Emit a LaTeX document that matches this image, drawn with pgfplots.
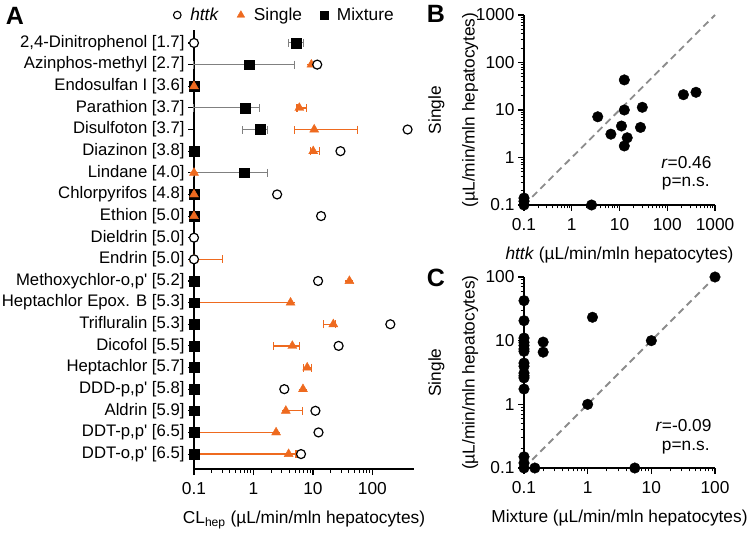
\documentclass[border=0pt]{standalone}
\usepackage{fontspec}
\setmainfont{Liberation Sans}
\usepackage{pgfplots}
\pgfplotsset{compat=1.18}
\definecolor{sorange}{HTML}{EE6A1F}
\definecolor{egray}{HTML}{808080}
\definecolor{dgray}{HTML}{8C8C8C}
\newcommand{\fs}{\fontsize{17.3}{20.8}\selectfont}
\newcommand{\fsa}{\fontsize{16.7}{20}\selectfont}
\pgfplotsset{
  common/.style={
    scale only axis,
    axis lines=left, axis line style={-, line width=1.3pt, black},
    tick align=outside,
    major tick length=6pt, minor tick length=3.5pt,
    major tick style={black, line width=1.1pt},
    minor tick style={black, line width=0.9pt},
    clip=false,
    /pgf/number format/assume math mode=true,
    tick label style={font=\fs},
    xticklabel style={yshift=-4pt},
    label style={font=\fs},
    xlabel style={yshift=-9pt},
  },
  scat/.style={
    common,
    ylabel={Single\\[13pt](µL/min/mln hepatocytes)},
    ylabel style={align=center, at={(axis description cs:-0.37,0.5)}, anchor=center},
  }
}
\begin{document}
\begin{tikzpicture}[font=\fs]
% ---------------- Panel A ----------------
\begin{axis}[common,
  xmode=log,
  at={(194pt,64pt)}, anchor=south west,
  width=220pt, height=439pt,
  xmin=0.1, xmax=500,
  ymin=0.31, ymax=20.6,
  xtick={0.1,1,10,100}, xticklabels={0.1,1,10,100},
  ytick={1,...,20},
  yticklabel style={font=\fsa},
  yticklabels={
    {DDT-o,p\textquotesingle\ [6.5]},
    {DDT-p,p\textquotesingle\ [6.5]},
    {Aldrin [5.9]},
    {DDD-p,p\textquotesingle\ [5.8]},
    {Heptachlor [5.7]},
    {Dicofol [5.5]},
    {Trifluralin [5.3]},
    {Heptachlor Epox. B [5.3]},
    {Methoxychlor-o,p\textquotesingle\ [5.2]},
    {Endrin [5.0]},
    {Dieldrin [5.0]},
    {Ethion [5.0]},
    {Chlorpyrifos [4.8]},
    {Lindane [4.0]},
    {Diazinon [3.8]},
    {Disulfoton [3.7]},
    {Parathion [3.7]},
    {Endosulfan I [3.6]},
    {Azinphos-methyl [2.7]},
    {2,4-Dinitrophenol [1.7]}},
  xlabel={CL\textsubscript{hep} (µL/min/mln hepatocytes)},
  legend columns=3,
  legend image code/.code={%
    \path[draw=none, fill=none] (0pt,0pt) -- (20pt,0pt);
    \draw[#1] plot coordinates {(9pt,0pt)};},
  legend style={draw=none, fill=none, font=\fs,
    at={(axis description cs:0.40,1.034)}, anchor=center,
    /tikz/every even column/.append style={column sep=11pt}},
]
% Mixture with error bars
\addplot[only marks, mark=square*, black, mark size=4.9pt, forget plot,
  error bars/.cd, x dir=both, x explicit,
  error bar style={egray, line width=1pt},
  error mark options={egray, rotate=90, mark size=4pt, line width=1pt}]
coordinates {
  (5.25,20) += (1.6,0) -= (1.35,0)
  (0.85,19) += (4.05,0) -= (0.75,0)
  (0.72,17) += (0.53,0) -= (0.62,0)
  (1.3,16)  += (0.4,0)  -= (0.64,0)
  (0.69,14) += (1.0,0)  -= (0.59,0)
};
% Mixture at limit
\addplot[only marks, mark=square*, black, mark size=4.9pt, forget plot]
coordinates {(0.1,18)(0.1,15)(0.1,13)(0.1,12)(0.1,9)(0.1,8)(0.1,7)(0.1,6)(0.1,5)(0.1,4)(0.1,3)(0.1,2)(0.1,1)};
% Single
\addplot[only marks, mark=triangle*, sorange, mark size=5.2pt, forget plot,
  error bars/.cd, x dir=both, x explicit,
  error bar style={sorange, line width=1.3pt},
  error mark options={sorange, rotate=90, mark size=4pt, line width=1.3pt}]
coordinates {
  (9.4,19)  += (0,0)    -= (0,0)
  (0.1,18)  += (0,0)    -= (0,0)
  (5.9,17)  += (1.8,0)  -= (0.5,0)
  (10.5,16) += (45.5,0) -= (5.6,0)
  (10.1,15) += (2.7,0)  -= (1.0,0)
  (0.1,14)  += (0,0)    -= (0,0)
  (0.1,13)  += (0,0)    -= (0,0)
  (0.1,12)  += (0,0)    -= (0,0)
  (0.1,10)  += (0.2,0)  -= (0,0)
  (41,9)    += (0,0)    -= (0,0)
  (4.2,8)   += (0,0)    -= (4.1,0)
  (22,7)    += (2,0)    -= (7,0)
  (4.5,6)   += (1.4,0)  -= (2.3,0)
  (8.0,5)   += (1.4,0)  -= (1.0,0)
  (6.8,4)   += (0,0)    -= (0,0)
  (3.5,3)   += (3.1,0)  -= (0,0)
  (2.4,2)   += (0,0)    -= (2.3,0)
  (3.9,1)   += (1.3,0)  -= (3.8,0)
};
% httk
\addplot[only marks, mark=*, mark size=4.5pt, forget plot,
  mark options={draw=black, fill=white, line width=1.2pt}]
coordinates {(0.1,20)(11.8,19)(390,16)(29,15)(2.5,13)(13.7,12)(0.1,11)(0.1,10)
  (12.2,9)(200,7)(27,6)(3.3,4)(11,3)(12.4,2)(6.3,1)};
\addlegendimage{only marks, mark=*, mark size=3.8pt, mark options={draw=black, fill=white, line width=1.1pt}}
\addlegendentry{\textit{httk}}
\addlegendimage{only marks, mark=triangle*, sorange, mark size=4.4pt}
\addlegendentry{Single}
\addlegendimage{only marks, mark=square*, black, mark size=3.9pt}
\addlegendentry{Mixture}
\end{axis}
% ---------------- Panel B ----------------
\begin{axis}[scat,
  xmode=log, ymode=log,
  at={(524pt,328pt)}, anchor=south west,
  width=191pt, height=190pt,
  xmin=0.1, xmax=1000, ymin=0.1, ymax=1000,
  xtick={0.1,1,10,100,1000}, xticklabels={0.1,1,10,100,1000},
  ytick={0.1,1,10,100,1000}, yticklabels={0.1,1,10,100,1000},
  xlabel={\textit{httk} (µL/min/mln hepatocytes)},
]
\addplot[dgray, line width=1.8pt, dash pattern=on 7pt off 4.5pt] coordinates {(0.1,0.1)(1000,1000)};
\addplot[only marks, mark=*, mark size=5.3pt, black]
coordinates {(0.1,0.1)(0.1,0.12)(0.1,0.14)(2.6,0.1)(3.5,7.2)(6.6,3.1)(12.6,43)(12.6,10)
  (11,4.6)(14.5,2.6)(12.6,1.75)(30,11.4)(27.5,4.3)(218,21)(400,23.6)};
\node[anchor=east] at (axis description cs:1.0,0.221) {\textit{r}=0.46};
\node[anchor=east] at (axis description cs:0.99,0.113) {p=n.s.};
\end{axis}
% ---------------- Panel C ----------------
\begin{axis}[scat,
  xmode=log, ymode=log,
  at={(524pt,65pt)}, anchor=south west,
  width=191pt, height=191pt,
  xmin=0.1, xmax=100, ymin=0.1, ymax=100,
  xtick={0.1,1,10,100}, xticklabels={0.1,1,10,100},
  ytick={0.1,1,10,100}, yticklabels={0.1,1,10,100},
  xlabel={Mixture (µL/min/mln hepatocytes)},
]
\addplot[dgray, line width=1.8pt, dash pattern=on 7pt off 4.5pt] coordinates {(0.1,0.1)(100,100)};
\addplot[only marks, mark=*, mark size=5.3pt, black]
coordinates {(0.1,42.5)(0.1,20.6)(0.1,11)(0.1,9.4)(0.1,8.4)(0.1,7.4)(0.1,6.8)(0.1,4.45)
  (0.1,3.97)(0.1,3.1)(0.1,2.8)(0.1,2.6)(0.1,1.74)(0.1,0.15)(0.1,0.12)(0.1,0.1)
  (0.148,0.1)(0.2,9.5)(0.2,6.6)(1.19,23.3)(1,1)(10,10)(100,100)(5.5,0.1)};
\node[anchor=east] at (axis description cs:1.0,0.221) {\textit{r}=-0.09};
\node[anchor=east] at (axis description cs:0.99,0.105) {p=n.s.};
\end{axis}
% panel letters
\node[font=\fontsize{25}{30}\selectfont\bfseries] at (15pt,517.5pt) {A};
\node[font=\fontsize{25}{30}\selectfont\bfseries] at (436pt,519pt) {B};
\node[font=\fontsize{25}{30}\selectfont\bfseries] at (436pt,255.5pt) {C};
\pgfresetboundingbox
\path[use as bounding box] (0,0) rectangle (754pt,533pt);
\end{tikzpicture}
\end{document}
